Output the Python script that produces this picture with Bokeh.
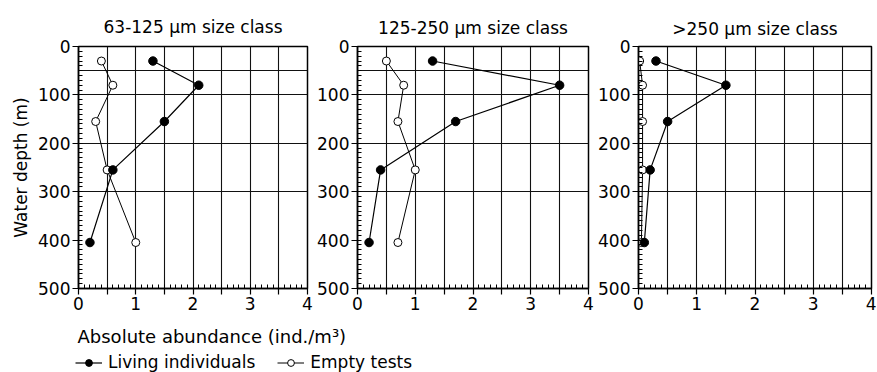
from bokeh.plotting import figure
from bokeh.layouts import row, column
from bokeh.models import (Range1d, FixedTicker, Title, Label, Legend, LegendItem)
from bokeh.embed import file_html
from bokeh.resources import INLINE

# Sampling depths (m) shared by all size classes
depths = [30, 80, 155, 255, 405]

# Absolute abundance (ind./m3) per size class
size_classes = ["63-125 µm size class", "125-250 µm size class", ">250 µm size class"]
living = [
    [1.3, 2.1, 1.5, 0.6, 0.2],
    [1.3, 3.5, 1.7, 0.4, 0.2],
    [0.3, 1.5, 0.5, 0.2, 0.1],
]
empty = [
    [0.4, 0.6, 0.3, 0.5, 1.0],
    [0.5, 0.8, 0.7, 1.0, 0.7],
    [0.02, 0.07, 0.07, 0.07, 0.05],
]

x_ticks = [0, 0.5, 1, 1.5, 2, 2.5, 3, 3.5, 4]
x_tick_labels = {0: "0", 1: "1", 2: "2", 3: "3", 4: "4"}
y_ticks = [0, 100, 200, 300, 400, 500]
y_grid = [50, 100, 200, 300]

FONT = "DejaVu Sans"
FS = "17px"

# per-panel frame placement (left border, top border, frame width, right border, title shift)
panel_geom = [
    (78, 46, 229, 6, -4),
    (44, 44, 231, 6, 0),
    (44, 42, 233, 5, -10),
]
FIG_H = 318
FRAME_H = 242


def make_panel(i):
    left, top, fw, right, toff = panel_geom[i]
    p = figure(output_backend="svg", toolbar_location=None,
               frame_width=fw, frame_height=FRAME_H, height=FIG_H,
               min_border_left=left, min_border_right=right,
               min_border_top=top, min_border_bottom=FIG_H - top - FRAME_H,
               x_range=Range1d(0, 4), y_range=Range1d(500, 0),
               title=None)
    p.background_fill_color = "white"
    p.border_fill_color = "white"
    p.outline_line_color = "black"
    p.outline_line_width = 1.5

    t = Title(text=size_classes[i], align="center", offset=toff,
              text_font=FONT, text_font_size=FS, text_font_style="normal",
              text_color="black", text_line_height=0.7,
              standoff=top - 26)
    p.add_layout(t, "above")

    # grid: vertical every 0.5, horizontal at selected depths
    p.xgrid.ticker = FixedTicker(ticks=x_ticks[1:-1])
    p.ygrid.ticker = FixedTicker(ticks=y_grid)
    for g in (p.xgrid, p.ygrid):
        g.grid_line_color = "#111111"
        g.grid_line_width = 1.1
        g.grid_line_alpha = 1.0

    xa = p.xaxis[0]
    xa.ticker = FixedTicker(ticks=x_ticks,
                            minor_ticks=[k / 10 for k in range(0, 41)])
    xa.major_label_overrides = {v: x_tick_labels.get(v, "") for v in x_ticks}
    ya = p.yaxis[0]
    ya.ticker = FixedTicker(ticks=y_ticks, minor_ticks=list(range(0, 501, 10)))
    for ax in (xa, ya):
        ax.axis_line_color = "black"
        ax.axis_line_width = 1.5
        ax.major_tick_line_color = "black"
        ax.major_tick_line_width = 1.2
        ax.minor_tick_line_color = "black"
        ax.minor_tick_line_width = 1
        ax.major_tick_out = 6
        ax.major_tick_in = 0
        ax.minor_tick_out = 0
        ax.minor_tick_in = 4
        ax.major_label_text_font = FONT
        ax.major_label_text_font_size = FS
        ax.major_label_text_color = "black"
        ax.major_label_standoff = 2
    if i == 0:
        ya.axis_label = "Water depth (m)"
        ya.axis_label_text_font = FONT
        ya.axis_label_text_font_size = FS
        ya.axis_label_text_font_style = "normal"
        ya.axis_label_text_color = "black"
        ya.axis_label_standoff = 4

    # empty tests: thin line with open circles
    p.line(empty[i], depths, line_color="black", line_width=1)
    p.scatter(empty[i], depths, marker="circle", size=8,
              fill_color="white", line_color="black", line_width=1)
    # living individuals: line with filled circles
    p.line(living[i], depths, line_color="black", line_width=1.2)
    p.scatter(living[i], depths, marker="circle", size=8.5,
              fill_color="black", line_color="black", line_width=1)
    return p


panels = [make_panel(i) for i in range(3)]

# footer strip holding the shared x-axis title and the legend
FOOT_H = 54
foot = figure(output_backend="svg", toolbar_location=None,
              frame_width=877, frame_height=FOOT_H,
              min_border=0, x_range=Range1d(0, 877), y_range=Range1d(0, FOOT_H))
foot.axis.visible = False
foot.grid.visible = False
foot.outline_line_color = None
foot.background_fill_color = "white"
foot.border_fill_color = "white"

foot.add_layout(Label(x=77, y=36, text="Absolute abundance (ind./m³)",
                      text_font=FONT, text_font_size="18px", text_color="black",
                      text_baseline="middle", text_align="left"))

# legend-only renderers (a single NaN point, so nothing is drawn in the strip)
nan = [float("nan")]
live_line = foot.line(x=nan, y=nan, line_color="black", line_width=1.2)
live_dot = foot.scatter(x=nan, y=nan, marker="circle", size=8.5,
                        fill_color="black", line_color="black")
emp_line = foot.line(x=nan, y=nan, line_color="black", line_width=1)
emp_dot = foot.scatter(x=nan, y=nan, marker="circle", size=8,
                       fill_color="white", line_color="black")
legend = Legend(items=[
    LegendItem(label="Living individuals", renderers=[live_line, live_dot]),
    LegendItem(label="Empty tests", renderers=[emp_line, emp_dot]),
], orientation="horizontal", location=(75, 0),
    glyph_width=27, glyph_height=17, label_height=17, label_standoff=6,
    spacing=22, padding=0, margin=0,
    border_line_color=None, background_fill_alpha=0,
    label_text_font=FONT, label_text_font_size=FS, label_text_color="black")
foot.add_layout(legend, "center")

layout = column(row(*panels, spacing=0), foot, spacing=0)

open("out.html", "w").write(file_html(layout, INLINE))
